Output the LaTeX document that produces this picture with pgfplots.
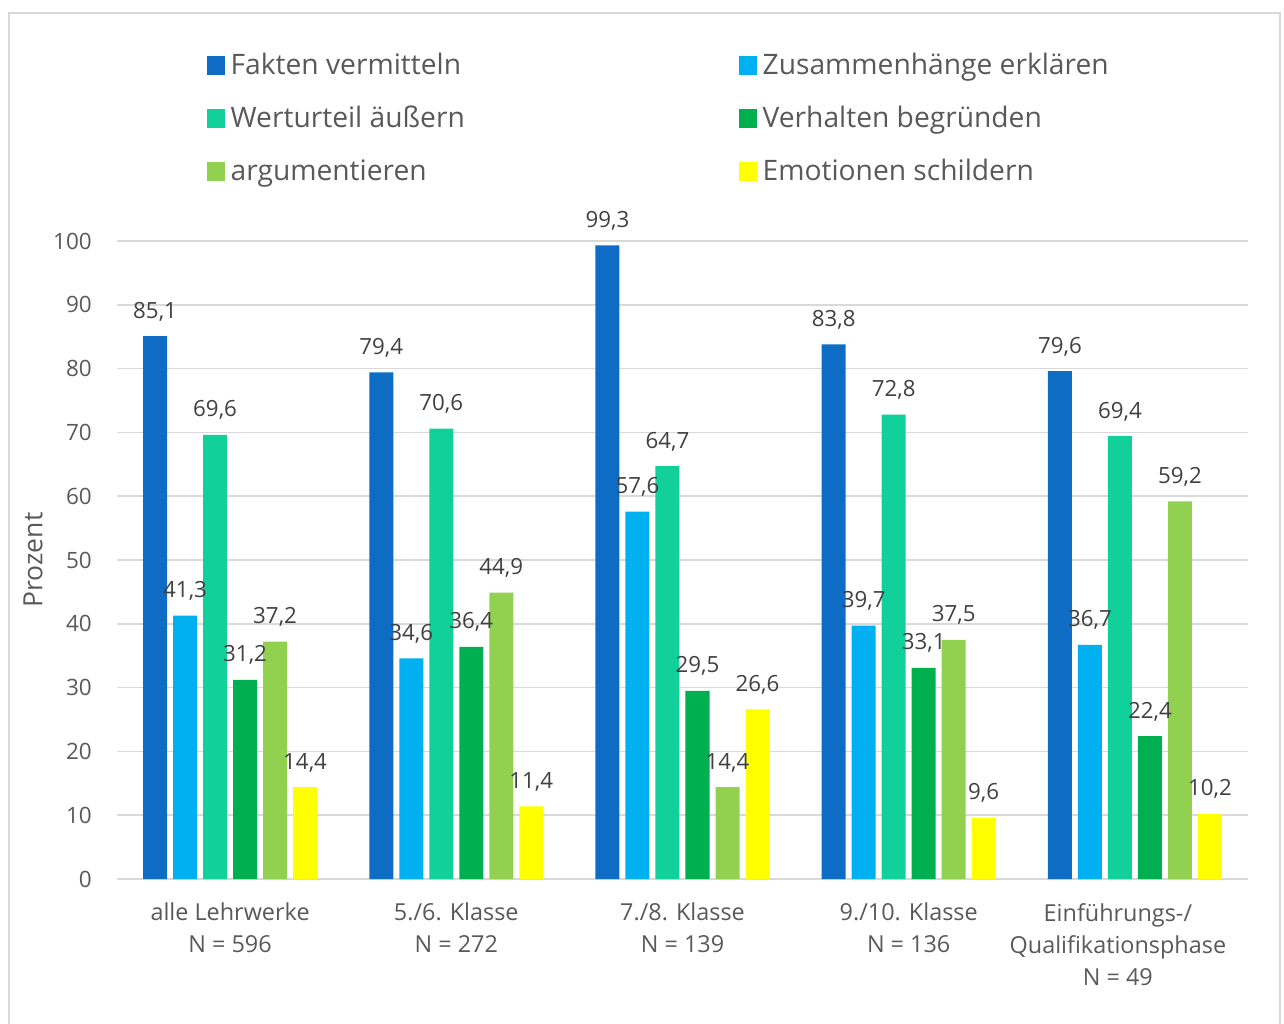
\documentclass[border=0pt]{standalone}
\usepackage{fontspec}
\setmainfont{Open Sans}
\usepackage{pgfplots}
\pgfplotsset{compat=1.18}

\definecolor{cFakten}{HTML}{0F6CC4}
\definecolor{cZusammen}{HTML}{00B0F0}
\definecolor{cWert}{HTML}{12D09A}
\definecolor{cVerhalten}{HTML}{00B050}
\definecolor{cArg}{HTML}{92D050}
\definecolor{cEmo}{HTML}{FFFF00}
\definecolor{txt}{HTML}{595959}
\definecolor{lbl}{HTML}{404040}
\definecolor{gridc}{HTML}{D9D9D9}

\begin{document}
\begin{tikzpicture}[x=1pt,y=1pt]
\useasboundingbox (0,0) rectangle (1284,1023);
% chart frame
\draw[gridc, line width=1.6pt] (9,1010) rectangle (1280,-20);
\begin{axis}[
  at={(117pt,144pt)}, anchor=south west,
  scale only axis, width=1131pt, height=638pt,
  xmin=-0.5, xmax=4.5, ymin=0, ymax=100,
  clip=false,
  ybar=6pt, bar width=24pt,
  axis line style={draw=none},
  major tick length=0pt,
  ymajorgrids, grid style={gridc, line width=1.6pt},
  ytick={0,10,...,100},
  xtick={0,1,2,3},
  xticklabels={alle Lehrwerke\\N = 596, 5./6. Klasse\\N = 272, 7./8. Klasse\\N = 139, 9./10. Klasse\\N = 136},
  extra x ticks={4},
  extra x tick labels={Einführungs-/\\Qualifikationsphase\\N = 49},
  extra x tick style={xticklabel style={xshift=-17pt}},
  /pgf/number format/assume math mode=true,
  /pgf/number format/use comma,
  /pgf/number format/fixed,
  /pgf/number format/fixed zerofill,
  /pgf/number format/precision=1,
  yticklabel={\pgfmathprintnumber[fixed,precision=0,fixed zerofill=false]{\tick}},
  yticklabel style={font=\fontsize{22.5}{27}\selectfont, text=txt, inner sep=0pt, anchor=east, xshift=-25pt},
  xticklabel style={font=\fontsize{23.4}{32}\selectfont, text=txt, align=center, inner sep=0pt, anchor=north, yshift=-24pt},
  ylabel={Prozent},
  every axis y label/.style={at={(axis description cs:-0.0743,0.5)}, rotate=90, anchor=center, font=\fontsize{26.5}{30}\selectfont, text=txt},
  nodes near coords,
  every node near coord/.append style={font=\fontsize{22.3}{26}\selectfont, text=lbl, inner sep=0pt, anchor=base, yshift=18pt},
  legend columns=2,
  legend image code/.code={\fill[#1] (0pt,0pt) rectangle (17.5pt,19pt);},
  legend style={at={(axis description cs:0.0769,1.3014)}, anchor=north west,
    draw=none, fill=none, font=\fontsize{28.2}{33}\selectfont, text=txt,
    nodes={inner sep=0pt, text height=24pt, text depth=8pt},
    cells={anchor=base west},
    row sep=21pt,
    /tikz/every odd column/.append style={column sep=6pt},
    /tikz/every even column/.append style={column sep=0pt}},
]
\addplot[fill=cFakten, draw=none] coordinates {(0,85.1) (1,79.4) (2,99.3) (3,83.8) (4,79.6)};
\addlegendentry{\makebox[508.5pt][l]{Fakten vermitteln}}
\addplot[fill=cZusammen, draw=none] coordinates {(0,41.3) (1,34.6) (2,57.6) (3,39.7) (4,36.7)};
\addlegendentry{Zusammenhänge erklären}
\addplot[fill=cWert, draw=none] coordinates {(0,69.6) (1,70.6) (2,64.7) (3,72.8) (4,69.4)};
\addlegendentry{\makebox[508.5pt][l]{Werturteil äußern}}
\addplot[fill=cVerhalten, draw=none] coordinates {(0,31.2) (1,36.4) (2,29.5) (3,33.1) (4,22.4)};
\addlegendentry{Verhalten begründen}
\addplot[fill=cArg, draw=none] coordinates {(0,37.2) (1,44.9) (2,14.4) (3,37.5) (4,59.2)};
\addlegendentry{\makebox[508.5pt][l]{argumentieren}}
\addplot[fill=cEmo, draw=none] coordinates {(0,14.4) (1,11.4) (2,26.6) (3,9.6) (4,10.2)};
\addlegendentry{Emotionen schildern}
\end{axis}
\end{tikzpicture}
\end{document}
